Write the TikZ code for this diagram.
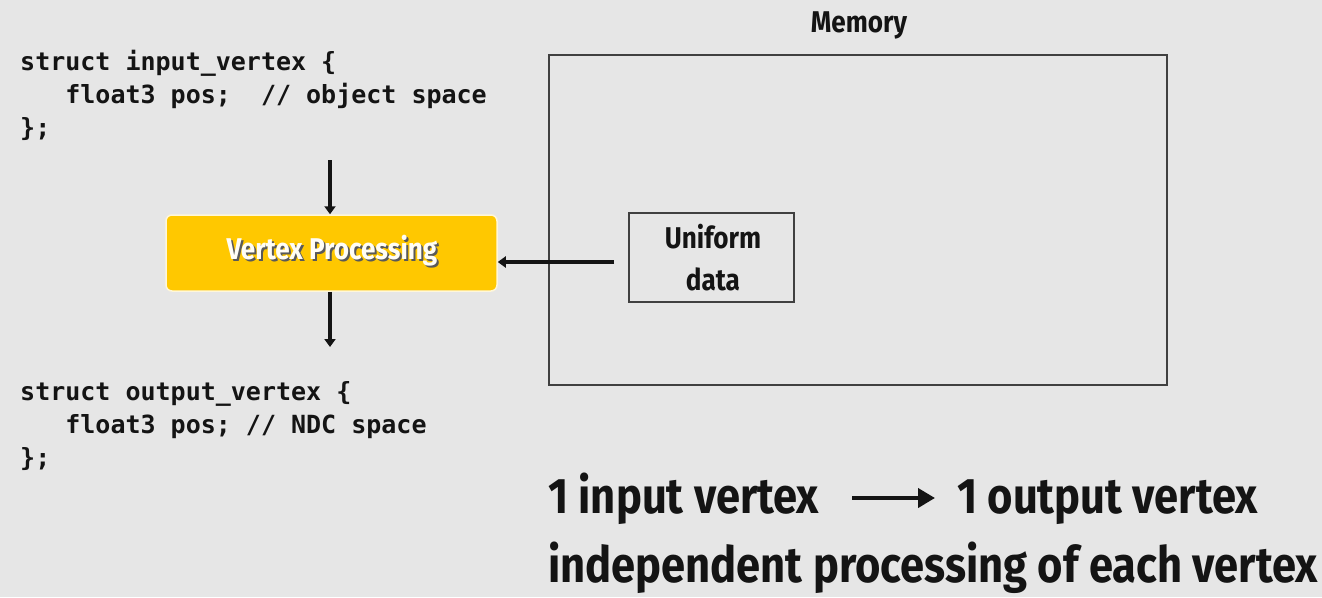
\documentclass[tikz,border=0pt]{standalone}
\usepackage{fontspec}
\usetikzlibrary{arrows.meta,calc}
\newfontfamily\condfont[FakeStretch=0.87]{Fira Sans}
\newfontfamily\codefont{DejaVu Sans Mono}
\definecolor{bg}{HTML}{E6E6E6}
\definecolor{gold}{HTML}{FFC800}
\definecolor{ink}{HTML}{141414}
\definecolor{frame}{HTML}{404040}
\tikzset{
  x=1pt, y=-1pt,
  code/.style={anchor=base west, inner sep=0pt, text=ink,
    font=\codefont\bfseries\fontsize{25}{30}\selectfont},
  label/.style={text=ink, inner sep=0pt,
    font=\condfont\bfseries\fontsize{30}{42}\selectfont},
  stagetext/.style={anchor=base, inner sep=0pt,
    font=\condfont\bfseries\fontsize{30}{36}\selectfont},
  headline/.style={anchor=base west, inner sep=0pt, text=ink,
    font=\condfont\bfseries\fontsize{50}{60}\selectfont},
  flow/.style={draw=ink, line width=4pt,
    -{Triangle[length=8pt,width=11pt]}},
  bigflow/.style={draw=ink, line width=4pt,
    -{Triangle[length=17pt,width=19pt]}},
  memframe/.style={draw=frame, line width=2pt},
}
\begin{document}
\begin{tikzpicture}
\useasboundingbox (0,0) rectangle (1322,597);
\fill[bg] (0,0) rectangle (1322,597);

% input vertex declaration
\node[code] (in1) at (20,70)  {struct input\_vertex \{};
\node[code] (in2) at (20,103) {\ \ \ float3 pos;\ \ // object space};
\node[code] (in3) at (20,136) {\};};

% output vertex declaration
\node[code] (out1) at (20,400) {struct output\_vertex \{};
\node[code] (out2) at (20,433) {\ \ \ float3 pos; // NDC space};
\node[code] (out3) at (20,466) {\};};

% memory region
\node[label, anchor=base] (memlbl) at (859,32) {Memory};
\node[memframe, minimum width=618pt, minimum height=330pt, inner sep=0pt]
  (mem) at (858,220) {};

% uniform data block
\node[memframe, minimum width=165pt, minimum height=89pt, inner sep=0pt]
  (uni) at (711.5,257.5) {};
\node[label, align=center, anchor=north] (unitxt) at (713,224)
  {Uniform\\data};

% vertex processing stage
\node[fill=gold, draw=white!85!gold, line width=1.5pt, rounded corners=6pt,
  minimum width=331pt, minimum height=76pt, inner sep=0pt]
  (vp) at (331.5,253) {};
\node[stagetext, text=black!65] (vpshadow) at (334,261) {Vertex Processing};
\node[stagetext, text=white!96!gold] (vptxt) at (332,259) {Vertex Processing};

% connectors
\coordinate (srcin) at (330,160);
\coordinate (sinkout) at (330,347);
\coordinate (unisrc) at (614,262);
\draw[flow] (srcin) -- (vp.north -| srcin);
\draw[flow] (vp.south -| sinkout) -- (sinkout);
\draw[flow] (unisrc) -- (vp.east |- unisrc);

% summary
\node[headline] (inv) at (548,513) {1 input vertex};
\node[headline] (outv) at (957,513) {1 output vertex};
\node[headline] (indep) at (548,582) {independent processing of each vertex};
\draw[bigflow] ($(inv.base east)+(33,-15)$) -- ($(outv.base west)+(-22,-15)$);
\end{tikzpicture}
\end{document}
